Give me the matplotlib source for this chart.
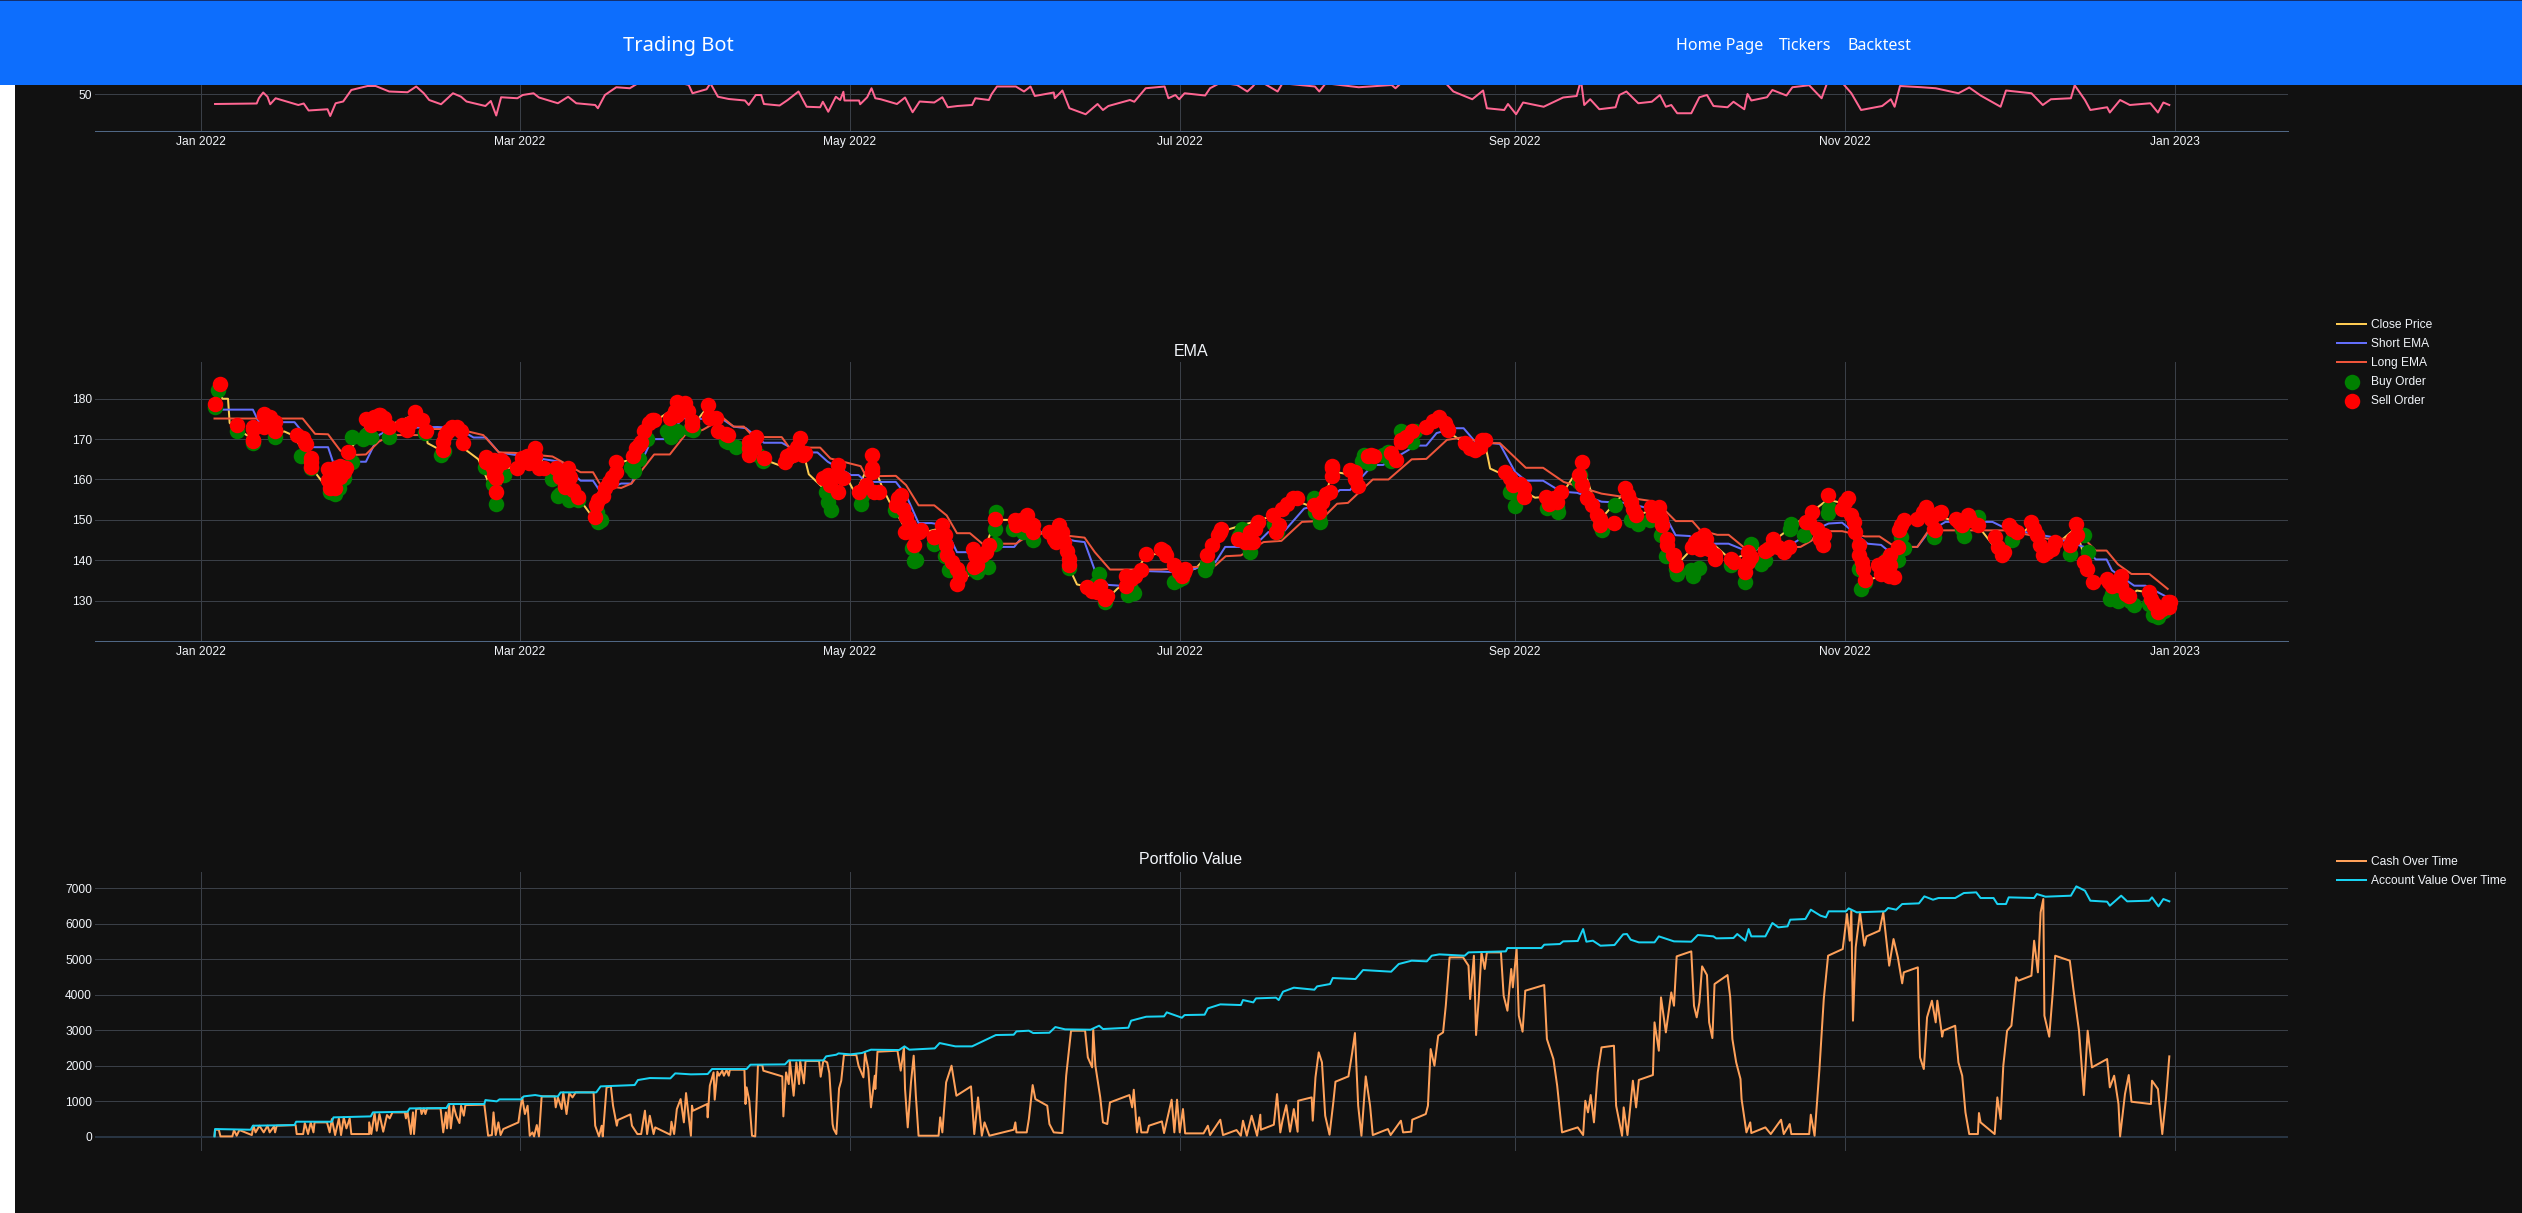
import numpy as np
import pandas as pd
import matplotlib
matplotlib.use("Agg")
import matplotlib.pyplot as plt
import matplotlib.dates as mdates
from matplotlib.patches import Rectangle

plt.rcParams['font.family'] = ['Liberation Sans', 'DejaVu Sans']

# ---------------- data: [day of 2022 counted from Jan 1, value] ----------------
rsi_points = [[2.6,46.1],[10.3,46.3],[10.7,48.4],[11.5,50.7],[12.3,49],[12.8,46],[13.8,48.4],[18,45.7],[19,46.3],[19.9,43.5],[23.4,44],[23.9,41.3],[24.9,46.4],[26.3,47.1],[27.8,51.7],[30.8,53.3],[32.3,53.3],[34.8,51.1],[38.2,50.8],[39.8,53.1],[41.2,50.4],[42.2,47.7],[44.4,46],[46.6,50.4],[48.1,49],[49.1,47.1],[52.6,45.3],[53.6,47.3],[54.6,41.5],[55.5,48.8],[58.5,48.4],[59.5,49.7],[61.5,50.4],[62.5,48.7],[66,46.4],[67.9,49],[69.4,46.4],[72.9,45.7],[73.4,44.4],[74.7,49.7],[76.8,52.8],[79.3,52.4],[80.8,54.4],[86.7,55.7],[90.2,53.7],[90.9,50.4],[93.5,52],[94.2,54.4],[95.6,49],[97.6,48.1],[100.6,47.5],[101.3,45.7],[102.6,49.7],[103.6,49.7],[104.1,46.1],[107,45.5],[108.5,47.7],[110.5,51.1],[112,45],[114.5,44.8],[115,47],[116,43],[117.4,49],[118.2,47.7],[118.8,51],[119,47.5],[121.7,47.5],[121.9,46],[123.2,48.8],[124,52.4],[124.7,48.4],[125.7,48],[128.7,46.1],[130.2,48.7],[131.6,42.8],[132.9,47.1],[135.6,46.7],[137.1,48.8],[138.1,44.8],[139.9,45.3],[142.6,45.7],[143.2,48.4],[145.7,47.7],[146.2,50],[147.2,53.1],[150.7,53.1],[152.2,51.1],[153.4,53.1],[154.2,49.3],[157.7,50.7],[157.9,48.4],[159.3,51.5],[160.6,44.4],[163.6,42],[165.8,46.1],[166.8,43.7],[167.8,45.3],[171.8,47.7],[172.6,47],[174.7,52.4],[178.2,53.1],[178.9,48.4],[180.2,49.7],[180.9,48],[181.9,50.4],[185.7,49.5],[186.6,52.4],[188.6,54.7],[191.6,53.7],[193.5,51.1],[194.5,53.1],[195.5,55.7],[199.1,51.1],[200,54.4],[206,53.1],[206.8,51.1],[208,54.4],[214.1,52.8],[220.2,53.7],[220.9,52.4],[223.2,57],[230.2,54.4],[231.6,51.1],[235.1,48],[237.1,51.5],[237.8,44.4],[241,43.7],[241.7,46.1],[243.2,42],[244.5,46.7],[248.3,45],[251.9,48.7],[254.4,49.3],[255.2,55.7],[255.8,45.7],[256.9,48],[258.6,44],[261.6,44.8],[262.3,49.7],[263.6,51.1],[265.8,46.4],[268.3,47],[269.8,49.7],[270.9,45],[271.9,45.7],[273,42.4],[275.6,42.4],[277.1,48.8],[278.5,49.7],[279.7,45.3],[282.3,44.8],[283.4,47],[285.4,44],[286,50.1],[286.7,47.5],[289.6,48.8],[290.6,51.7],[293.2,49.5],[294.3,52.8],[297.4,53.6],[299.7,48.4],[300.7,54.4],[303.6,54.4],[305.2,50.4],[307,43.7],[310.9,45.3],[312.5,48],[313.2,45],[314.2,53.3],[318.2,52.8],[320.8,52.4],[325,50.4],[327,52.7],[329.1,49.5],[332.8,45],[333.8,51.5],[338.5,50.4],[340.6,45.7],[342.1,48],[345.8,48.4],[346.5,53.6],[348.4,47.7],[349.4,43.7],[352.5,44.8],[353,42.7],[354.9,47.7],[356.7,45.7],[360.5,46.4],[361.9,42.7],[362.9,46.7],[364,45.7]]

close_points = [[2.3,178],[2.8,182],[3.5,181],[4,180],[5,180],[5.3,174],[6.7,172.5],[9.6,170],[11.7,175],[13.6,171.5],[15.4,171.9],[16.9,171],[18.5,168],[20.4,163],[23.8,157],[26.5,161],[27.9,168],[31,174],[34,173],[39.5,176],[41.6,172],[41.9,169],[44.7,167],[46.4,172],[48.5,170],[49,167.3],[51.3,165],[54.6,155],[56,162],[61.7,167],[64.5,162],[69.7,155],[70.6,154],[72.8,150],[74.4,155],[76.8,164],[79.8,165],[83.4,174],[88,178],[90.8,173],[93.7,178],[97.5,170],[101.3,167],[104,165],[108,163],[111.7,166],[111.9,164],[112.4,161.3],[115,158],[117.8,163],[118,164],[121,156.5],[124,165],[126,158],[127.5,154],[128.5,152],[131,146],[137,148],[139.8,134],[143.6,138],[146.9,150],[150.6,150],[153.9,146],[158.7,148],[160.6,138],[162,134],[165.9,133],[167.2,130],[169.5,133],[171.9,135],[174.7,141],[178,142],[181.8,137],[184,138],[186,141],[188.4,147],[198.3,151],[202,155],[205.9,153],[208,156],[209.2,162],[213.4,161],[215.8,165],[220,166],[223.9,171],[229,175],[230.4,172],[233.7,169],[237.4,169],[237.9,166],[238.4,162.7],[241.2,161],[244.7,157],[246.7,155.5],[251.5,156],[255.4,164],[258.7,150],[263.4,157],[265.3,151],[269.5,153],[273,139],[278,146],[283,140],[290,144],[297.9,152],[300.8,155],[304.1,154],[307.7,135],[310.7,136],[314.9,149],[318.5,152],[328.7,148],[329.5,147],[333,141],[338.5,149],[340.6,141],[346.7,148],[349.8,134],[355,136],[356.5,131],[358,132.5],[360.3,132],[361.9,127],[364,129]]

short_ema_points = [[3.7,177.3],[9.6,177.3],[10.7,174.2],[17.3,174.2],[19.2,171],[20.6,168],[23.5,168],[24.4,164.4],[30.5,164.4],[32.9,171],[35.3,172.7],[43.7,173],[47.5,172.7],[50.4,170.4],[52.7,170.4],[55.1,166.7],[64.5,164.8],[66.4,164.4],[70.2,159.7],[72.5,159.7],[73.9,156.9],[77.7,159],[79.6,159],[83.4,170],[86.2,170],[89,175.2],[96.6,174.8],[98.5,173.1],[100.8,172.7],[104.1,169.1],[107.4,169.1],[110.7,166.7],[114,166.7],[115.9,164.4],[120.2,161.1],[121.6,161.1],[123,159.4],[128.5,159.4],[130.4,156.1],[132.7,149.2],[135.1,149.2],[137.4,148.7],[139.8,142],[143.1,142],[147.8,143.3],[150.4,143.3],[153,147.8],[161.5,144.8],[163.4,144.5],[165.3,137.5],[167.7,133.9],[170,133.7],[172.8,134.6],[175.2,137.3],[181.5,137],[187.6,139.5],[189.4,143.3],[194.6,143.3],[197.4,147],[200.2,147],[204,152.8],[207.8,154],[210.6,157.4],[212.5,157.4],[216.7,163.6],[218.6,163.6],[222.8,166.9],[224.6,168.4],[226.6,168.4],[228.5,171.5],[231.8,172.7],[233.5,172.7],[235.6,169.4],[240.2,168.8],[243,161.9],[245,159.7],[248.2,159.7],[251.5,157],[254.5,156.7],[259,154.5],[263.4,154.2],[268,152.8],[270.9,150.7],[272.7,146.2],[275.3,146],[277.8,144.1],[282.5,144.1],[285.6,142.4],[293.8,143.7],[298.9,147.8],[301,149.1],[303.5,149.3],[308.2,144.1],[310.7,143.8],[313.8,140.4],[315.4,143.3],[317.4,143.3],[319.5,147],[322.6,149.5],[331.3,149.5],[333.9,147.8],[342.1,145.8],[348.3,143.3],[350.4,140.2],[352.4,140.2],[353.4,137.5],[357.5,133.7],[359.6,133.7],[363.7,130.8]]

long_ema_points = [[2.5,175.1],[18.8,175.1],[21.1,171.3],[23.5,171.2],[25.8,167.1],[28.7,166.1],[30.5,166.2],[32.9,169.4],[35.3,171],[41.9,171],[43,172.5],[47.5,172.5],[52.2,171],[55.1,166.7],[57.9,166.6],[65,165.7],[67.3,164],[70.2,161.8],[72.5,161.8],[73.9,158.6],[77.7,157.9],[79.6,159],[83.8,166.2],[86.7,166.2],[89.5,171],[92.8,172.3],[96.6,175.2],[98.5,173.1],[100.4,173.1],[102.2,170.5],[107.4,170.5],[108.8,167.9],[114.5,167.9],[116.4,165.2],[122,163.3],[123,160.8],[128.5,160.9],[130.4,158.6],[132.7,153.6],[135.6,153.6],[137.9,151.1],[139.8,146.7],[142.2,146.7],[144.5,144.1],[150.7,144.1],[154,147],[163.4,145.6],[165.3,142],[168.1,137.7],[177.6,137.7],[187.6,138.7],[189.5,141],[192.3,141.2],[196.5,144.5],[199.8,144.8],[203.6,149.5],[206.9,149.7],[210.1,154],[212.1,154.2],[216.7,160],[219.6,160],[223.9,165],[226.6,165.1],[230.4,169.8],[233.1,170.4],[237.8,169],[240.2,169],[245,162.9],[248.2,162.9],[252,159.4],[259,156.5],[268,154.7],[270.1,153.2],[272.7,149.7],[275.8,149.7],[277.3,147.4],[280.4,146.3],[282.5,146.3],[285.6,142.9],[295.8,143.3],[297.9,144.9],[298.9,147.2],[303.5,147.2],[307.7,145.9],[310.4,145.9],[313.3,143.3],[317.4,143.3],[319.5,147.4],[333.9,147.4],[341.6,145.3],[348.3,145.3],[350.4,142.4],[352.4,142.4],[354.5,139],[357,136.6],[360.3,136.6],[363.7,132.9]]

buy_points = [[3.2,182.2],[2.5,178],[6.7,171.9],[9.6,169],[13.6,170.6],[18.5,165.7],[20.4,162.8],[23.8,157],[26.5,160.3],[27.9,170.6],[27.9,164.4],[30.6,171],[34.8,170.6],[41.4,171.5],[44.3,166.1],[54.6,154],[52.5,163],[56,161.1],[66.4,156.5],[69.7,155],[73.5,149.5],[79.6,163.2],[86.2,171.9],[90.9,172.3],[97.5,169.4],[104,164.5],[115.9,154.5],[122,154],[128.4,152.4],[131.8,139.9],[135.6,144],[138.4,137.5],[142.7,137.9],[145.5,138.3],[146.9,147.8],[150.2,147.8],[153.9,144.9],[160.6,138],[166,136.6],[167.2,129.6],[172,132.9],[180.7,135],[185.6,137.5],[193.6,143.7],[192.6,147.8],[199,147],[206.8,151.1],[205.9,155.5],[216,164],[214.7,164.5],[219.6,166.8],[223.9,169.4],[243.6,155.3],[250.7,153.2],[254.9,159.4],[258.7,148.7],[261.5,153.6],[265.8,149.1],[270,146.2],[272.7,137.9],[275.5,137.5],[283,138.7],[285.5,134.6],[286.6,144.1],[289.2,140],[293.8,147.8],[296.4,146.2],[300.8,151.6],[307.7,134.6],[306.6,137.9],[311.8,140.4],[313.8,140],[314.3,145.8],[320.5,145.8],[325.7,147.8],[328.7,150.7],[334.9,144.9],[345.7,141.6],[348.3,146.2],[353.4,131.7],[356.7,130],[360.3,129.2],[361.9,125.9],
    [25.5,158],[24.7,156.5],[31.5,170.5],[30,170],[45,167],[54,159],[66,156],[68,154.8],[65,160],[73.2,152],[74,150],[80,162],[81,165],[82.5,170],[87,170.5],[88,172],[90.5,172.5],[97,169.5],[99,168],[103,166],[115.5,157],[116.5,152.5],[122.3,156],[129,153],[131.5,143],[132.2,140],[137.5,141],[143.5,137],[146.9,144],[147,152],[152,147],[165.5,134],[171.5,131.5],[172.5,132],[180,134.5],[181.5,135.5],[186,139],[192,146],[194,142],[198.5,149],[206,152],[207,149.5],[215,166],[218.5,166],[220,164.5],[222,172],[224.5,172],[242,157],[243,153.5],[249,153],[251,152],[255,161],[259,147.5],[264.5,150],[268,150],[271,141],[273,136.5],[276,136],[277,138],[288.5,139],[290,143],[294,149],[301,153],[307,133],[311.5,138],[313,141],[315,143],[326,146],[349,142],[353,130.5],[354.5,129.8],[357.5,129],[361,126.5],[363,127.5]]

sell_points = [[3.6,183.6],[2.5,178.7],[6.7,173.5],[9.6,169.8],[9.6,173],[11.7,175.9],[12.8,175.4],[13.6,172.3],[17.8,171],[19.2,169],[20.4,164.4],[20.4,163.2],[23.8,157.8],[23.9,161.9],[25.5,162.8],[24.7,157.8],[26.5,161.9],[27.2,166.9],[31,174.8],[32.9,176],[34.3,173.5],[38,173.5],[39.5,176.7],[40.9,174.8],[41.6,172],[44.7,167.3],[44.7,169.3],[46.4,172.9],[48,171.9],[48.5,169],[52.7,165.6],[54,162.8],[54.6,157],[55.8,164.4],[58.4,162.8],[60.3,165.2],[61.7,167.9],[62.6,162.8],[65.6,162.8],[67.8,162.8],[67.3,158.6],[69.7,155.7],[72.8,150.7],[73,153.6],[74.4,156],[75.8,159.4],[76.8,164.4],[79.8,165.7],[81,168.6],[82,171.9],[83.4,174.8],[86.7,175.2],[88,179.3],[89.5,178.9],[90.8,173.5],[93.7,178.5],[94.2,175.2],[95.7,171.9],[97.5,171],[101.3,169.4],[101.3,166.1],[102.7,170.6],[104.1,165.2],[108,164.4],[110.8,170.2],[109.4,166.1],[111.7,166.5],[115,160.3],[117.8,163.6],[117.8,157],[121.6,157],[124,166.1],[124,161.9],[124.5,157],[129.4,156.1],[128.5,153.6],[131.3,147],[131.8,143.7],[132.7,147],[137,148.7],[135.6,145.8],[137.9,141.2],[139.8,137.9],[139.8,134.1],[142.7,142.9],[143.6,138.7],[144.5,141.2],[145.8,143.7],[146.9,150.1],[150.6,149.9],[152.7,151.1],[153.9,147],[156.8,147],[158.7,148.7],[158.2,144.5],[160.6,138.7],[163.9,133.3],[166.3,133.7],[167.2,130.4],[171.9,135.4],[173.8,137.5],[174.7,141.6],[178,142.4],[179.9,138.7],[181.8,137],[186,141.2],[188.4,147],[191.7,145.3],[194,144.5],[195.5,149.5],[198.3,151.1],[198.8,147],[202,155.3],[205.9,153.6],[208,156.5],[209.2,162.8],[213.4,161.9],[215.8,165.7],[220,166.5],[223.9,171.9],[222,169.8],[226.6,173.1],[229,175.2],[230.4,172.7],[233.7,169],[235.6,167.3],[237.4,169.8],[241.2,161.9],[242.6,158.6],[244.7,157.8],[248.7,155.7],[251.5,157],[255.4,164.4],[254.9,161.1],[256.3,155.3],[258.7,150.3],[261.3,149.2],[263.4,157.8],[265.3,151.1],[269.6,153.2],[268.6,151.1],[271.2,145.3],[272.7,138.7],[276.3,144.5],[278,146.2],[279.9,141.2],[283,140.4],[286,142],[285.5,137],[289.7,142.9],[290.7,145.3],[293.6,143.3],[296.9,149.5],[297.9,152],[299.9,143.7],[300.8,156.1],[304.1,154.5],[305.6,149.5],[306.6,143.7],[307.2,139.5],[307.7,135],[310.7,136.6],[312.3,141.2],[313.1,135.8],[313.8,143.3],[314,147.4],[314.9,149.9],[318.5,152],[320.5,147.8],[321.5,151.6],[325.1,149.5],[326.7,151.1],[328.7,148.7],[331.8,145.8],[333.1,141.2],[334.9,147.8],[338.5,149.5],[339.5,146.2],[340.6,141.2],[342.8,144.5],[345.7,143.7],[346.7,149],[348.8,137.9],[349.8,134.6],[352.9,134.6],[355,136.2],[356.5,131.2],[360.3,132.1],[361.9,127.1],[363.7,129.6],[364,128.4],
    [9.6,172.5],[9.6,169.6],[11.7,176.2],[11.7,172.9],[12.8,173.9],[13.6,174.2],[13.6,172],[18.8,170.2],[19.4,168.7],[20.4,165.2],[23.5,162.6],[23.5,159.9],[24.7,162.9],[24.7,160.3],[25.8,163.4],[25.8,160.7],[26.8,162.8],[30.5,175],[32,175.6],[33.1,175.9],[33.8,175.2],[34.8,172.9],[31.5,173.5],[32.9,173.9],[37.2,173.5],[38.6,173.9],[40,175.2],[38.1,172.3],[45.2,171],[47.3,172.9],[45.6,171.9],[54.1,164.8],[54.6,162.8],[54.6,160.3],[54.1,161.1],[55.5,164.8],[52.7,164.4],[59.3,165.2],[60.3,165.7],[61.7,165.7],[60.7,164],[63.4,162.8],[66.4,160.7],[68.3,160.7],[67.3,158.2],[68.8,157.4],[73.5,154.9],[75.4,159.4],[76,160.7],[76.8,161.9],[74.7,157.8],[80.5,167.7],[81.3,169.4],[82.9,173.9],[83.8,174.8],[88.1,176],[90,176.9],[90.8,174.4],[87.6,176.9],[93.9,175.6],[95.2,175.2],[97.1,171.2],[102.3,167.7],[101.3,167.7],[109.3,166.5],[110.3,168.1],[111.3,166.1],[108.4,165.7],[115.9,161.1],[117.8,161.1],[116.4,158.6],[118.8,160.3],[123,158.6],[124,162.8],[125.4,156.9],
    [130.9,148.7],[129.9,152.8],[128.9,155.3],[130.4,150.7],[130.2,147],[133.2,147.4],[135.6,145.8],[137.5,146.2],[137.8,143.7],[138.9,139.5],[139.8,137.9],[140.3,136.2],[143,138.3],[143.1,141.2],[144.5,141.2],[145.2,142],[150.8,148.7],[151.7,149.9],[153.5,149.1],[152.6,148.7],[153.9,148.7],[157.8,145.3],[159.2,147],[159.6,144.5],[160.1,142.4],[160.6,140.4],[164.8,132.5],[165.7,132.1],[167.6,131.2],[171,133.7],[172.8,136.2],[171,136.2],[177.6,142.9],[178.5,141.2],[180.9,137],[182,137.9],[181.5,136.2],[186.9,143.7],[188,146.2],[188.7,147.8],[193.1,144.5],[194,147],[194.6,144.5],[195,147.8],[200,152.8],[200.9,154],[202.6,155.3],[199.3,148.7],[206.8,152],[207.3,154.5],[208.7,157],[209.2,163.3],[209.2,160.8],[212.5,162.3],[213.4,160],[213.9,158.3],[216.3,166],[217,165.7],[221,164.8],[222,169.4],[222.9,170.6],[227.9,174.4],[229,175.6],[230,174],[230.6,172.3],[234.6,167.7],[236.9,169.8],[236.5,168.1],[242,160.3],[244,159],[244.7,155.7],[250.2,155.3],[249.3,154],[250.7,154.5],[255.4,158.6],[257.3,153.6],[258.2,151.1],[258.7,148.7],[264.4,154.5],[263.9,156.1],[264.8,152.8],[270,150.3],[272.4,141.2],
    [268.1,153.2],[269.6,151.1],[270.1,148.7],[271.2,143.7],[272.2,141.2],[275.8,143.3],[276.8,145.3],[278.4,145.3],[278.9,142.9],[277.3,142.9],[279.9,140.4],[283.5,139.5],[285.6,138.7],[286.1,139.5],[286.6,140.8],[289.2,142.4],[291.7,143.3],[292.8,142],[297.4,149.5],[298.9,147.8],[299.4,145.3],[300.2,146.2],[303.5,152.8],[304.6,155.3],[305.1,151.1],[305.9,147],[306.6,141.2],[307.4,137.9],[310.2,138.7],[311.3,139.5],[312.3,138.7],[312.1,136.2],[314.4,148.7],[317.4,150.3],[319,153.2],[320,150.3],[320.7,147.4],[321.7,152],[324.6,150.3],[325.7,148.7],[327.2,149.9],[332.3,143.3],[333.4,142],[334.4,148.7],[335.9,147],[339,147.8],[340.1,143.7],[341.3,142],[342.3,142.9],[346.2,145.3],[347,146.2],[348.3,139.5],[352.4,135.4],[353.4,133.7],[355,133.7],[356,131.7],[360.6,130.4],[361.1,129.2],[362.7,127.9],[364.2,129.6]]

cash_points = [[2.5,28],[2.6,197],[3.3,197],[3.6,9],[5.8,9],[6.1,188],[6.6,28],[7.1,188],[9.4,47],[9.7,310],[10.1,122],[10.8,310],[11.6,122],[12.3,310],[12.7,122],[13.5,291],[13.7,122],[14,310],[17.5,329],[17.7,75],[18.9,75],[19.2,385],[19.8,75],[20.3,404],[20.8,122],[21,404],[23.3,404],[23.8,122],[24.2,498],[24.8,47],[25.5,517],[25.9,47],[26.4,545],[26.9,235],[27.5,517],[27.8,75],[31.1,75],[31.1,404],[31.5,75],[32.1,667],[32.5,169],[33,639],[33.7,141],[34.4,610],[34.9,517],[35.4,686],[37.7,686],[37.9,517],[38.2,704],[38.8,75],[39.2,686],[39.4,75],[39.8,780],[40.6,798],[40.8,639],[41.2,798],[41.5,639],[41.8,798],[44.3,798],[44.8,122],[45.3,686],[45.5,235],[45.9,892],[46.2,235],[46.7,874],[47.2,592],[47.8,385],[48.1,874],[48.6,592],[48.9,892],[52.4,902],[53.1,28],[53.8,47],[54.1,686],[54.5,47],[55,404],[55.4,47],[55.9,216],[58.7,404],[59,733],[59.4,1108],[59.9,639],[60.4,874],[60.8,28],[61.3,122],[61.6,9],[62.1,329],[62.5,9],[63,1137],[65.4,1137],[65.6,827],[66,1108],[66.7,780],[67,1249],[67.6,639],[68.1,1230],[68.7,1108],[69.3,1249],[72.6,1249],[72.9,310],[73.6,9],[74.1,310],[74.3,9],[75,1390],[75.8,1418],[76.2,874],[76.9,310],[77.1,470],[79.4,629],[79.7,310],[80.7,75],[81.4,75],[82.1,733],[82.5,75],[83,592],[83.7,75],[84,263],[86.8,56],[87,423],[87.5,75],[88,780],[88.7,1061],[89.3,404],[89.7,1230],[90.6,28],[90.8,874],[91,733],[93.6,921],[93.7,545],[94.1,1437],[94.8,1813],[95,1043],[95.5,1832],[95.8,1719],[96.4,1860],[96.7,1719],[97.2,1879],[97.6,1719],[97.8,1888],[100.5,1888],[100.7,921],[100.9,1390],[101.4,1014],[101.9,28],[102.5,9],[103,2019],[103.8,2019],[104,1860],[107.5,1700],[107.7,573],[108.2,1813],[108.7,1484],[108.9,2142],[109.6,1155],[110.1,2095],[110.6,1484],[110.8,2142],[111.5,1503],[111.8,2132],[114.3,2132],[114.6,1691],[115.1,2151],[115.8,2095],[116.2,1794],[116.8,357],[117,216],[117.5,75],[118,1362],[118.4,1578],[118.9,2301],[121.2,2301],[121.6,2001],[122.5,1672],[122.8,2358],[123.4,1907],[123.9,827],[124.6,1719],[124.7,1343],[125.1,2395],[128.8,2423],[129.4,1860],[130,2517],[130.2,1343],[130.7,263],[131.3,1531],[131.8,2283],[132.2,1155],[132.7,28],[136.4,28],[136.7,545],[137.1,122],[137.8,1531],[138.8,2001],[139.7,1155],[142.4,1418],[143,75],[143.7,1108],[144.4,28],[144.9,404],[145.8,28],[150.3,197],[150.6,404],[150.8,122],[152.7,122],[153.1,498],[153.8,1456],[154.3,1061],[156.5,874],[156.9,357],[157.7,122],[159.3,103],[160,1719],[160.9,2987],[163.5,2987],[164,2236],[164.8,1954],[165,3034],[165.4,2001],[166.3,1108],[166.8,404],[167.6,357],[168.1,967],[171.7,1174],[172.2,827],[172.5,1324],[173.1,122],[173.5,545],[173.9,122],[175,122],[175.3,310],[177.7,432],[178.1,103],[179.5,1043],[180,122],[180.5,1043],[181,122],[181.6,780],[182,94],[185.4,94],[186.2,310],[186.6,47],[188.5,479],[189,47],[191.5,188],[192.3,28],[192.7,451],[193.4,28],[194.3,592],[195.3,28],[195.9,620],[196,197],[198.4,338],[199,1202],[199.6,122],[200,451],[200.7,892],[201.4,141],[202.1,780],[202.8,141],[202.9,1014],[205.4,1108],[205.6,451],[206.1,1672],[206.7,2376],[207.3,2095],[207.9,592],[208.7,56],[209.4,967],[209.8,1550],[212.2,1700],[212.9,2376],[213.4,2921],[214,874],[214.6,28],[215.4,1700],[216.2,874],[216.7,47],[219.5,216],[220,47],[221.9,451],[222.3,122],[223.8,141],[224,479],[226.5,639],[226.9,874],[227.4,2470],[228.1,2001],[228.8,2846],[229.7,2940],[230.2,3691],[230.9,5053],[233.4,5053],[234.4,4819],[234.7,3879],[235.4,5100],[235.8,2865],[236.3,3879],[236.8,5194],[237.4,4725],[237.8,5194],[240.4,5194],[240.9,3973],[241.6,3550],[242.3,4725],[242.6,4208],[243.3,5288],[243.7,3410],[244.4,2959],[244.9,4114],[248.4,4274],[248.9,2752],[250.1,2189],[250.8,1437],[251.7,122],[254.6,263],[255.6,47],[256,1014],[256.5,686],[257,1174],[257.6,404],[258.3,1813],[259,2517],[261.3,2564],[261.7,874],[262.8,28],[263.1,827],[263.8,47],[264.8,1578],[265.4,827],[265.9,1600],[268.5,1738],[268.8,3222],[269.6,2423],[270,3926],[270.9,2940],[271.9,4067],[272.4,3691],[272.9,5082],[275.6,5222],[276.1,3691],[276.6,3363],[277.1,3785],[277.6,4800],[278.5,4555],[278.9,3222],[279.5,2780],[279.9,4302],[282.3,4555],[282.8,3926],[283.2,2752],[283.9,2095],[284.7,1625],[284.9,1061],[285.8,122],[286.5,404],[286.7,103],[289.3,263],[290.3,75],[292.2,479],[292.7,75],[293.8,357],[294.1,75],[297.4,75],[297.7,620],[298.4,28],[299.3,1907],[300.1,3879],[300.9,5100],[303.6,5288],[304.4,6275],[304.9,5523],[305.2,6369],[305.5,3269],[306,5335],[306.8,6322],[307.6,5382],[308,5645],[310.4,5805],[311.1,6322],[312.2,4819],[313,5570],[313.8,5053],[314.6,4321],[314.9,4631],[317.5,4772],[317.7,3222],[317.9,2236],[318.6,1907],[319.2,3363],[320.1,3832],[320.8,3222],[321.1,3832],[322,2818],[322.2,2987],[324.4,3128],[325,2095],[325.7,1719],[326.3,686],[327,75],[328.6,75],[328.8,667],[329.1,404],[331.7,75],[332.2,1108],[332.8,498],[333.3,2001],[334,2987],[334.8,3128],[335.7,4490],[336.1,4396],[338.5,4537],[339,5523],[339.7,4631],[340.2,6322],[340.7,6697],[340.9,3410],[341.8,2818],[342.4,3973],[342.9,5100],[345.6,4960],[346.3,4114],[347.3,2987],[348.2,1174],[348.9,2987],[349.7,1954],[352.5,2189],[353,1390],[353.8,1719],[354.6,921],[354.9,9],[355.8,1202],[356.5,1738],[357,986],[360.6,921],[360.8,1578],[361.9,1343],[362.7,75],[363.4,1108],[364,2264]]

account_points = [[2.5,9],[2.6,216],[9.2,197],[9.6,310],[17.3,329],[17.6,423],[24.2,423],[24.5,545],[31.4,573],[31.8,686],[38.2,704],[38.6,798],[45.4,808],[45.8,921],[52.4,921],[52.6,1033],[54.7,996],[55.2,1052],[59.2,1052],[59.7,1137],[61.8,1174],[63.2,1137],[66,1137],[66.5,1249],[73.1,1249],[73.9,1418],[80.2,1456],[80.8,1597],[83,1653],[86.8,1644],[87.7,1785],[90.6,1757],[93.7,1766],[94.5,1907],[100.9,1907],[101.6,2029],[108,2038],[108.7,2151],[115.1,2151],[115.6,2264],[117.5,2311],[117.9,2348],[120.1,2320],[122.2,2358],[123.9,2452],[129.1,2442],[130.1,2546],[131,2452],[135.7,2489],[136.6,2639],[139.5,2546],[142.6,2546],[144.8,2705],[147,2865],[150.3,2874],[150.8,2968],[153.1,2987],[153.9,2921],[156.9,2930],[158,3090],[159.8,3025],[164.5,3015],[166.1,3128],[166.8,3034],[171.5,3071],[172,3269],[174.8,3381],[178.1,3391],[178.6,3504],[181.4,3353],[181.9,3428],[185.6,3438],[186.2,3616],[188.5,3729],[192.3,3710],[192.7,3851],[194.6,3785],[195.1,3898],[198.8,3917],[199.3,3851],[200.1,4086],[202.1,4199],[205.9,4142],[206.4,4236],[208.8,4302],[209.3,4471],[213.5,4443],[214.9,4696],[220.1,4650],[221.5,4866],[223.9,4960],[226.7,4941],[227.6,5100],[229,5138],[233.7,5100],[234.4,5194],[241.3,5222],[241.6,5316],[247.9,5316],[248.4,5410],[251.3,5429],[251.9,5504],[254.6,5514],[255.6,5852],[256.2,5495],[257.4,5523],[258.8,5382],[261.4,5401],[263,5702],[263.7,5711],[264.4,5551],[265.9,5476],[268.8,5476],[269.6,5645],[272.4,5504],[275.6,5495],[276.8,5683],[279.7,5645],[280.2,5589],[283.4,5598],[284.1,5711],[285.6,5523],[286.2,5852],[286.7,5645],[289.3,5645],[290.6,6021],[291.7,5899],[293.4,5927],[293.9,6115],[296.7,6134],[297.7,6397],[299.5,6228],[300.5,6181],[301,6350],[304.2,6350],[304.7,6434],[306.2,6322],[311.4,6350],[312,6444],[313.5,6397],[314.6,6556],[317.7,6575],[318.7,6772],[320.3,6678],[321.3,6725],[324.4,6725],[326,6866],[328.3,6885],[329.1,6725],[331.5,6725],[332.2,6556],[333.8,6556],[334.3,6744],[339,6725],[339.5,6838],[341.1,6763],[345.8,6791],[346.8,7054],[348.4,6932],[349.4,6650],[352.5,6622],[353,6509],[355.1,6791],[356.2,6632],[360.3,6650],[360.8,6744],[362,6491],[362.9,6697],[364,6632]]

month_ticks = ['2022-01-01', '2022-03-01', '2022-05-01', '2022-07-01', '2022-09-01', '2022-11-01', '2023-01-01']
month_labels = ['Jan 2022', 'Mar 2022', 'May 2022', 'Jul 2022', 'Sep 2022', 'Nov 2022', 'Jan 2023']
rsi_ticks = [50]
ema_ticks = [130, 140, 150, 160, 170, 180]
portfolio_ticks = [0, 1000, 2000, 3000, 4000, 5000, 6000, 7000]
nav_links = ['Home Page', 'Tickers', 'Backtest']

# ---------------- layout helpers ----------------
W, H = 2522, 1213
DPI = 100
PX = 72 / DPI
BG, GRID, AXIS, INK = '#111111', '#283442', '#506784', '#f2f5fa'
GRID_LINE = '#3a3f47'
base = pd.Timestamp('2022-01-01')


def series(points):
    arr = np.array(points, dtype=float)
    return base + pd.to_timedelta(arr[:, 0], unit='D'), arr[:, 1]


fig = plt.figure(figsize=(W / DPI, H / DPI), dpi=DPI, facecolor=BG)


def panel(top, bottom, ylim, yticks, show_dates=True):
    ax = fig.add_axes([95 / W, 1 - bottom / H, (2288 - 95) / W, (bottom - top) / H], facecolor=BG)
    start = mdates.date2num(base)
    ax.set_xlim(start - 19.6, start + 385.95)
    ax.set_ylim(*ylim)
    ax.set_xticks(mdates.date2num(pd.to_datetime(month_ticks)))
    ax.set_xticklabels(month_labels if show_dates else [])
    ax.set_yticks(yticks)
    ax.tick_params(axis='both', length=0, labelcolor=INK, labelsize=12 * PX)
    ax.tick_params(axis='x', pad=5 * PX)
    ax.tick_params(axis='y', pad=3 * PX)
    ax.grid(True, axis='both', color=GRID_LINE, lw=1 * PX, zorder=0)
    ax.set_axisbelow(True)
    for side in ax.spines.values():
        side.set_visible(False)
    if show_dates:
        ax.spines['bottom'].set_visible(True)
        ax.spines['bottom'].set_color(AXIS)
        ax.spines['bottom'].set_linewidth(1 * PX)
    return ax


LW = 2 * PX
MARKER = (15.5 * PX) ** 2

# RSI panel, its upper part hidden by the navbar
ax_rsi = panel(-148, 131, (35.3, 146.9), rsi_ticks)
ax_rsi.plot(*series(rsi_points), color='#FF6692', lw=LW, solid_joinstyle='round')

# EMA panel
ax_ema = panel(362, 641, (120.0, 189.1), ema_ticks)
ax_ema.plot(*series(close_points), color='#FECB52', lw=LW, label='Close Price')
ax_ema.plot(*series(short_ema_points), color='#636EFA', lw=LW, label='Short EMA')
ax_ema.plot(*series(long_ema_points), color='#EF553B', lw=LW, label='Long EMA')
bx, by = series(buy_points)
ax_ema.scatter(bx, by, s=MARKER, color='#008000', linewidths=0, label='Buy Order', zorder=3)
sx, sy = series(sell_points)
ax_ema.scatter(sx, sy, s=MARKER, color='#FF0000', linewidths=0, label='Sell Order', zorder=4)
ax_ema.set_title('EMA', color=INK, fontsize=16 * PX, pad=0, x=(1191 - 95) / 2193, y=1 + 3.5 / 279, va='bottom')

# Portfolio panel
ax_pf = panel(871.7, 1150.7, (-394, 7467), portfolio_ticks, show_dates=False)
ax_pf.axhline(0, color=GRID, lw=2 * PX, zorder=1)
ax_pf.plot(*series(cash_points), color='#FFA15A', lw=LW, label='Cash Over Time', zorder=3)
ax_pf.plot(*series(account_points), color='#19D3F3', lw=LW, label='Account Value Over Time', zorder=4)
ax_pf.set_title('Portfolio Value', color=INK, fontsize=16 * PX, pad=0, x=(1191 - 95) / 2193, y=1 + 4.5 / 279, va='bottom')

for ax, top_px in ((ax_ema, 319), (ax_pf, 856)):
    ax.legend(loc='upper left', bbox_to_anchor=(2337 / W, 1 - top_px / H),
              bbox_transform=fig.transFigure, frameon=False, fontsize=12 * PX,
              labelcolor=INK, borderpad=0, borderaxespad=0, labelspacing=0.58,
              handlelength=29 / 12, handletextpad=5 / 12)

# Page chrome
fig.add_artist(Rectangle((0, 0), 15 / W, 1 - 85 / H, transform=fig.transFigure, color='white', lw=0, zorder=10))
fig.add_artist(Rectangle((0, 1 - 85 / H), 1, 85 / H, transform=fig.transFigure, color='#0D6EFD', lw=0, zorder=10))
fig.add_artist(Rectangle((0, 1 - 1 / H), 1, 1 / H, transform=fig.transFigure, color='#14306e', lw=0, zorder=11))
fig.text(623 / W, 1 - 45.5 / H, 'Trading Bot', family='Noto Sans', fontsize=20 * PX, color='white', va='center', ha='left', zorder=12)
for label, left in zip(nav_links, (1676, 1779, 1848)):
    fig.text(left / W, 1 - 45.5 / H, label, family='Noto Sans', fontsize=16 * PX, color='white', va='center', ha='left', zorder=12)

fig.savefig('out.png', dpi=DPI, facecolor=BG)
